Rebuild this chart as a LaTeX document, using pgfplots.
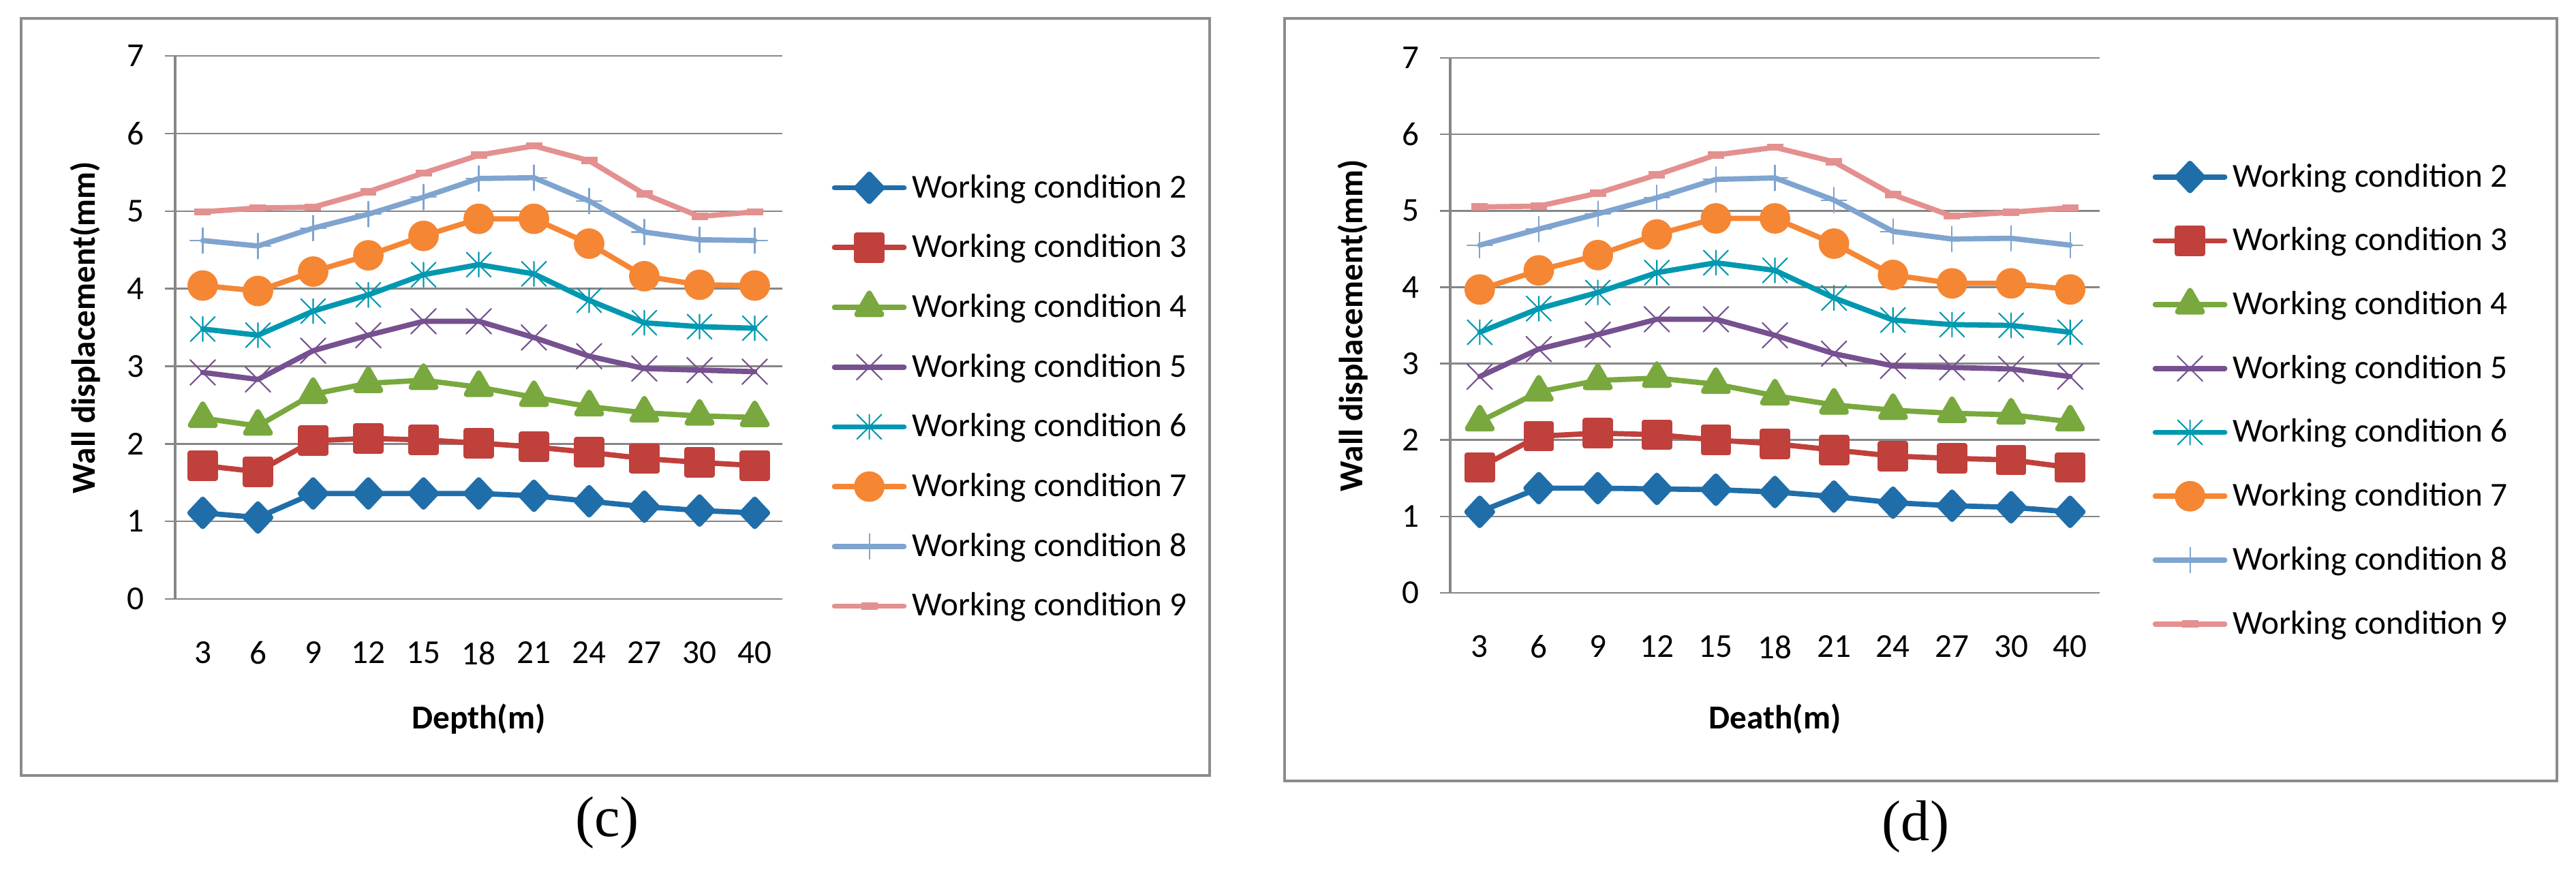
\documentclass[border=0pt]{standalone}
\usepackage{pgfplots}
\pgfplotsset{compat=1.18}
\usepackage{pgfplotstable}
\usepackage{fontspec}
\setmainfont{Carlito}
\newfontfamily\capfont{Liberation Serif}

\definecolor{gridc}{RGB}{134,134,134}
\definecolor{framec}{RGB}{140,140,140}
\definecolor{wcii}{RGB}{31,110,170}
\definecolor{wciii}{RGB}{192,64,60}
\definecolor{wciv}{RGB}{121,168,62}
\definecolor{wcv}{RGB}{118,80,144}
\definecolor{wcvi}{RGB}{0,152,176}
\definecolor{wcvii}{RGB}{245,134,52}
\definecolor{wcviii}{RGB}{127,164,208}
\definecolor{wcix}{RGB}{228,144,144}

% x plus a vertical bar, like the spreadsheet's star marker
\pgfdeclareplotmark{xbar}{%
  \pgfpathmoveto{\pgfqpoint{-\pgfplotmarksize}{-\pgfplotmarksize}}%
  \pgfpathlineto{\pgfqpoint{\pgfplotmarksize}{\pgfplotmarksize}}%
  \pgfpathmoveto{\pgfqpoint{-\pgfplotmarksize}{\pgfplotmarksize}}%
  \pgfpathlineto{\pgfqpoint{\pgfplotmarksize}{-\pgfplotmarksize}}%
  \pgfpathmoveto{\pgfqpoint{0pt}{-\pgfplotmarksize}}%
  \pgfpathlineto{\pgfqpoint{0pt}{\pgfplotmarksize}}%
  \pgfusepathqstroke}

% panel (c): depth index 0..10 = 3,6,...,30,40 m
\pgfplotstableread{
x  c2   c3   c4   c5   c6   c7   c8   c9
0  1.11 1.72 2.33 2.92 3.48 4.04 4.62 4.99
1  1.05 1.64 2.23 2.83 3.40 3.97 4.55 5.04
2  1.36 2.04 2.64 3.20 3.71 4.22 4.78 5.05
3  1.36 2.07 2.78 3.40 3.92 4.43 4.96 5.25
4  1.36 2.05 2.82 3.58 4.18 4.68 5.18 5.49
5  1.36 2.01 2.73 3.58 4.31 4.90 5.42 5.72
6  1.33 1.96 2.60 3.37 4.19 4.90 5.43 5.84
7  1.26 1.89 2.48 3.13 3.85 4.58 5.13 5.65
8  1.19 1.81 2.40 2.97 3.56 4.16 4.73 5.22
9  1.14 1.76 2.36 2.95 3.51 4.05 4.63 4.93
10 1.11 1.72 2.34 2.93 3.49 4.04 4.62 4.99
}\tabc

% panel (d)
\pgfplotstableread{
x  c2   c3   c4   c5   c6   c7   c8   c9
0  1.06 1.64 2.24 2.83 3.41 3.97 4.55 5.05
1  1.37 2.05 2.63 3.19 3.72 4.22 4.76 5.06
2  1.37 2.09 2.78 3.38 3.93 4.42 4.96 5.23
3  1.36 2.07 2.81 3.58 4.19 4.69 5.17 5.47
4  1.35 2.00 2.73 3.58 4.32 4.90 5.41 5.73
5  1.32 1.95 2.58 3.37 4.22 4.90 5.43 5.83
6  1.26 1.87 2.46 3.13 3.86 4.57 5.14 5.64
7  1.18 1.79 2.39 2.97 3.57 4.16 4.73 5.21
8  1.14 1.76 2.35 2.95 3.51 4.05 4.63 4.93
9  1.12 1.74 2.33 2.93 3.50 4.05 4.64 4.98
10 1.06 1.64 2.24 2.83 3.41 3.97 4.55 5.04
}\tabd

\pgfplotsset{
  panel/.style={
    scale only axis, anchor=south west,
    xmin=-0.5, xmax=10.5, ymin=0, ymax=7,
    xtick={0,...,10},
    xticklabels={3,6,9,12,15,18,21,24,27,30,40},
    ytick={0,...,7},
    axis x line*=bottom, axis y line*=left,
    axis line style={draw=gridc, line width=1.1pt},
    x axis line style={line width=0.7pt},
    ymajorgrids, grid style={draw=gridc, line width=0.7pt},
    tick align=outside, major tick length=0.15cm,
    ytick style={draw=gridc, line width=0.7pt},
    xtick style={draw=none},
    tick label style={font=\fontsize{14}{16}\selectfont},
    yticklabel style={anchor=east, xshift=-0.18cm},
    xticklabel style={anchor=north, yshift=-0.35cm},
    label style={font=\fontsize{14}{16}\selectfont\bfseries},
    /pgf/number format/assume math mode=true,
    legend cell align=left,
    legend style={draw=none, fill=none, inner sep=0pt, anchor=north west,
      font=\fontsize{14}{16}\selectfont, column sep=0.08cm,
      cells={anchor=west}},
    legend image code/.code={%
      \draw[mark repeat=2, mark phase=2]
        plot coordinates {(0cm,0cm) (0.51cm,0cm) (1.02cm,0cm)};},
    every axis plot/.append style={line width=2.2pt, line join=round, line cap=round},
  },
  s2/.style={color=wcii, mark=diamond*, mark size=0.2cm, mark options={xscale=1.25}},
  s3/.style={color=wciii, mark=square*, mark size=0.185cm},
  s4/.style={color=wciv, mark=triangle*, mark size=0.21cm},
  s5/.style={color=wcv, mark=x, mark size=0.26cm, mark options={line width=0.6pt}},
  s6/.style={color=wcvi, mark=xbar, mark size=0.18cm, mark options={line width=0.6pt}},
  s7/.style={color=wcvii, mark=*, mark size=0.185cm},
  s8/.style={color=wcviii, mark=+, mark size=0.185cm, mark options={line width=0.6pt}},
  s9/.style={color=wcix, mark=-, mark size=0.12cm, mark options={line width=3pt, line cap=butt}},
}

\begin{document}
\begin{tikzpicture}
\useasboundingbox (0,0) rectangle (37.8cm,12.86cm);

\draw[framec, line width=1.3pt] (0.31cm,1.48cm) rectangle (17.75cm,12.59cm);
\draw[framec, line width=1.3pt] (18.85cm,1.40cm) rectangle (37.52cm,12.59cm);

\begin{axis}[panel, at={(2.57cm,4.07cm)}, width=8.91cm, height=7.97cm,
    xlabel={Depth(m)}, ylabel={Wall displacement(mm)},
    xlabel style={at={(axis description cs:0.5,-0.221)}, anchor=center},
    ylabel style={at={(axis description cs:-0.148,0.5)}, anchor=center},
    legend style={at={(1.0808,0.813)}, nodes={inner sep=0pt, minimum height=0.877cm}}]
  \addplot[s2] table[x=x, y=c2] {\tabc};
  \addplot[s3] table[x=x, y=c3] {\tabc};
  \addplot[s4] table[x=x, y=c4] {\tabc};
  \addplot[s5] table[x=x, y=c5] {\tabc};
  \addplot[s6] table[x=x, y=c6] {\tabc};
  \addplot[s7] table[x=x, y=c7] {\tabc};
  \addplot[s8] table[x=x, y=c8] {\tabc};
  \addplot[s9] table[x=x, y=c9] {\tabc};
  \legend{Working condition 2, Working condition 3, Working condition 4,
    Working condition 5, Working condition 6, Working condition 7,
    Working condition 8, Working condition 9}
\end{axis}

\begin{axis}[panel, at={(21.28cm,4.16cm)}, width=9.53cm, height=7.85cm,
    xlabel={Death(m)}, ylabel={Wall displacement(mm)},
    xlabel style={at={(axis description cs:0.5,-0.236)}, anchor=center},
    ylabel style={at={(axis description cs:-0.150,0.5)}, anchor=center},
    legend style={at={(1.0808,0.838)}, nodes={inner sep=0pt, minimum height=0.937cm}}]
  \addplot[s2] table[x=x, y=c2] {\tabd};
  \addplot[s3] table[x=x, y=c3] {\tabd};
  \addplot[s4] table[x=x, y=c4] {\tabd};
  \addplot[s5] table[x=x, y=c5] {\tabd};
  \addplot[s6] table[x=x, y=c6] {\tabd};
  \addplot[s7] table[x=x, y=c7] {\tabd};
  \addplot[s8] table[x=x, y=c8] {\tabd};
  \addplot[s9] table[x=x, y=c9] {\tabd};
  \legend{Working condition 2, Working condition 3, Working condition 4,
    Working condition 5, Working condition 6, Working condition 7,
    Working condition 8, Working condition 9}
\end{axis}

\node[font=\capfont\fontsize{24}{28}\selectfont] at (8.91cm,0.79cm) {(c)};
\node[font=\capfont\fontsize{24}{28}\selectfont] at (28.11cm,0.73cm) {(d)};
\end{tikzpicture}
\end{document}
